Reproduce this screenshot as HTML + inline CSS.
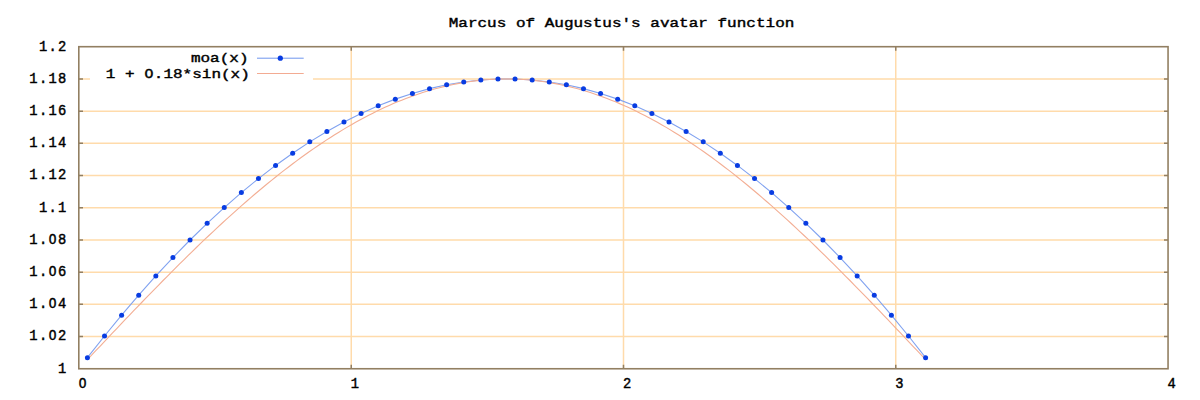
<!DOCTYPE html><html><head><meta charset="utf-8"><style>html,body{margin:0;padding:0;background:#fff;width:1200px;height:400px;overflow:hidden}svg{display:block}</style></head><body>
<svg width="1200" height="400" viewBox="0 0 1200 400">
<rect width="1200" height="400" fill="#fff"/>
<path d="M79.00 336.55H1168.00 M79.00 304.35H1168.00 M79.00 272.15H1168.00 M79.00 239.95H1168.00 M79.00 207.75H1168.00 M79.00 175.55H1168.00 M79.00 143.35H1168.00 M79.00 111.15H1168.00 M79.00 78.95H1168.00 M351.25 46.75V368.75 M623.50 46.75V368.75 M895.75 46.75V368.75" stroke="#ffdbab" stroke-width="1.5" fill="none"/>
<path d="M79.00 336.55h4M1168.00 336.55h-4 M79.00 304.35h4M1168.00 304.35h-4 M79.00 272.15h4M1168.00 272.15h-4 M79.00 239.95h4M1168.00 239.95h-4 M79.00 207.75h4M1168.00 207.75h-4 M79.00 175.55h4M1168.00 175.55h-4 M79.00 143.35h4M1168.00 143.35h-4 M79.00 111.15h4M1168.00 111.15h-4 M79.00 78.95h4M1168.00 78.95h-4 M351.25 368.75v-4M351.25 46.75v4 M623.50 368.75v-4M623.50 46.75v4 M895.75 368.75v-4M895.75 46.75v4" stroke="#927f62" stroke-width="1.5" fill="none"/>
<rect x="90" y="50" width="223" height="32" fill="#fff"/>
<polyline points="87.40,357.64 104.51,336.00 121.61,315.16 138.72,295.13 155.83,275.92 172.93,257.54 190.04,240.01 207.14,223.34 224.25,207.54 241.36,192.61 258.46,178.57 275.57,165.43 292.67,153.19 309.78,141.87 326.89,131.46 343.99,121.98 361.10,113.43 378.20,105.82 395.31,99.14 412.42,93.42 429.52,88.64 446.63,84.81 463.73,81.94 480.84,80.03 497.95,79.07 515.05,79.07 532.16,80.03 549.26,81.94 566.37,84.81 583.48,88.64 600.58,93.42 617.69,99.14 634.79,105.82 651.90,113.43 669.01,121.98 686.11,131.46 703.22,141.87 720.32,153.19 737.43,165.43 754.54,178.57 771.64,192.61 788.75,207.54 805.85,223.34 822.96,240.01 840.07,257.54 857.17,275.92 874.28,295.13 891.38,315.16 908.49,336.00 925.60,357.64" stroke="#80a2f0" stroke-width="1.1" fill="none"/>
<polyline points="87.40,359.65 91.59,355.19 95.78,350.74 99.98,346.28 104.17,341.84 108.36,337.40 112.55,332.97 116.74,328.55 120.93,324.13 125.12,319.73 129.31,315.34 133.50,310.96 137.69,306.60 141.89,302.25 146.08,297.91 150.27,293.60 154.46,289.30 158.65,285.02 162.84,280.76 167.03,276.52 171.22,272.30 175.41,268.10 179.60,263.93 183.80,259.79 187.99,255.67 192.18,251.57 196.37,247.51 200.56,243.47 204.75,239.46 208.94,235.48 213.13,231.54 217.32,227.62 221.51,223.74 225.70,219.90 229.90,216.09 234.09,212.32 238.28,208.58 242.47,204.88 246.66,201.22 250.85,197.60 255.04,194.02 259.23,190.48 263.42,186.99 267.61,183.53 271.81,180.12 276.00,176.76 280.19,173.44 284.38,170.17 288.57,166.94 292.76,163.77 296.95,160.64 301.14,157.56 305.33,154.53 309.52,151.55 313.71,148.62 317.91,145.75 322.10,142.92 326.29,140.15 330.48,137.44 334.67,134.78 338.86,132.17 343.05,129.63 347.24,127.13 351.43,124.70 355.62,122.32 359.82,120.00 364.01,117.75 368.20,115.55 372.39,113.41 376.58,111.33 380.77,109.31 384.96,107.35 389.15,105.46 393.34,103.62 397.53,101.85 401.73,100.15 405.92,98.50 410.11,96.93 414.30,95.41 418.49,93.96 422.68,92.58 426.87,91.26 431.06,90.00 435.25,88.82 439.44,87.70 443.63,86.64 447.83,85.65 452.02,84.73 456.21,83.88 460.40,83.09 464.59,82.38 468.78,81.73 472.97,81.14 477.16,80.63 481.35,80.19 485.54,79.81 489.74,79.50 493.93,79.26 498.12,79.09 502.31,78.98 506.50,78.95 510.69,78.98 514.88,79.09 519.07,79.26 523.26,79.50 527.45,79.81 531.65,80.19 535.84,80.63 540.03,81.14 544.22,81.73 548.41,82.38 552.60,83.09 556.79,83.88 560.98,84.73 565.17,85.65 569.36,86.64 573.55,87.70 577.75,88.82 581.94,90.00 586.13,91.26 590.32,92.58 594.51,93.96 598.70,95.41 602.89,96.93 607.08,98.50 611.27,100.15 615.46,101.85 619.66,103.62 623.85,105.46 628.04,107.35 632.23,109.31 636.42,111.33 640.61,113.41 644.80,115.55 648.99,117.75 653.18,120.00 657.37,122.32 661.56,124.70 665.76,127.13 669.95,129.63 674.14,132.17 678.33,134.78 682.52,137.44 686.71,140.15 690.90,142.92 695.09,145.75 699.28,148.62 703.47,151.55 707.67,154.53 711.86,157.56 716.05,160.64 720.24,163.77 724.43,166.94 728.62,170.17 732.81,173.44 737.00,176.76 741.19,180.12 745.38,183.53 749.58,186.99 753.77,190.48 757.96,194.02 762.15,197.60 766.34,201.22 770.53,204.88 774.72,208.58 778.91,212.32 783.10,216.09 787.29,219.90 791.48,223.74 795.68,227.62 799.87,231.54 804.06,235.48 808.25,239.46 812.44,243.47 816.63,247.51 820.82,251.57 825.01,255.67 829.20,259.79 833.39,263.93 837.59,268.10 841.78,272.30 845.97,276.52 850.16,280.76 854.35,285.02 858.54,289.30 862.73,293.60 866.92,297.91 871.11,302.25 875.30,306.60 879.50,310.96 883.69,315.34 887.88,319.73 892.07,324.13 896.26,328.55 900.45,332.97 904.64,337.40 908.83,341.84 913.02,346.28 917.21,350.74 921.40,355.19 925.60,359.65" stroke="#f3ae94" stroke-width="1.1" fill="none"/>
<g fill="#083ce2"><circle cx="87.40" cy="357.64" r="2.5"/><circle cx="104.51" cy="336.00" r="2.5"/><circle cx="121.61" cy="315.16" r="2.5"/><circle cx="138.72" cy="295.13" r="2.5"/><circle cx="155.83" cy="275.92" r="2.5"/><circle cx="172.93" cy="257.54" r="2.5"/><circle cx="190.04" cy="240.01" r="2.5"/><circle cx="207.14" cy="223.34" r="2.5"/><circle cx="224.25" cy="207.54" r="2.5"/><circle cx="241.36" cy="192.61" r="2.5"/><circle cx="258.46" cy="178.57" r="2.5"/><circle cx="275.57" cy="165.43" r="2.5"/><circle cx="292.67" cy="153.19" r="2.5"/><circle cx="309.78" cy="141.87" r="2.5"/><circle cx="326.89" cy="131.46" r="2.5"/><circle cx="343.99" cy="121.98" r="2.5"/><circle cx="361.10" cy="113.43" r="2.5"/><circle cx="378.20" cy="105.82" r="2.5"/><circle cx="395.31" cy="99.14" r="2.5"/><circle cx="412.42" cy="93.42" r="2.5"/><circle cx="429.52" cy="88.64" r="2.5"/><circle cx="446.63" cy="84.81" r="2.5"/><circle cx="463.73" cy="81.94" r="2.5"/><circle cx="480.84" cy="80.03" r="2.5"/><circle cx="497.95" cy="79.07" r="2.5"/><circle cx="515.05" cy="79.07" r="2.5"/><circle cx="532.16" cy="80.03" r="2.5"/><circle cx="549.26" cy="81.94" r="2.5"/><circle cx="566.37" cy="84.81" r="2.5"/><circle cx="583.48" cy="88.64" r="2.5"/><circle cx="600.58" cy="93.42" r="2.5"/><circle cx="617.69" cy="99.14" r="2.5"/><circle cx="634.79" cy="105.82" r="2.5"/><circle cx="651.90" cy="113.43" r="2.5"/><circle cx="669.01" cy="121.98" r="2.5"/><circle cx="686.11" cy="131.46" r="2.5"/><circle cx="703.22" cy="141.87" r="2.5"/><circle cx="720.32" cy="153.19" r="2.5"/><circle cx="737.43" cy="165.43" r="2.5"/><circle cx="754.54" cy="178.57" r="2.5"/><circle cx="771.64" cy="192.61" r="2.5"/><circle cx="788.75" cy="207.54" r="2.5"/><circle cx="805.85" cy="223.34" r="2.5"/><circle cx="822.96" cy="240.01" r="2.5"/><circle cx="840.07" cy="257.54" r="2.5"/><circle cx="857.17" cy="275.92" r="2.5"/><circle cx="874.28" cy="295.13" r="2.5"/><circle cx="891.38" cy="315.16" r="2.5"/><circle cx="908.49" cy="336.00" r="2.5"/><circle cx="925.60" cy="357.64" r="2.5"/></g>
<rect x="78.8" y="46.7" width="1089.25" height="322.05" stroke="#927f62" stroke-width="1.6" fill="none"/>
<g font-family="'Liberation Mono', monospace" font-size="16" fill="#000" stroke="#000" stroke-width="0.5">
<g text-anchor="middle"><text transform="translate(195.69,61.90) scale(0.999,0.77)">m</text><text transform="translate(205.29,61.90) scale(0.999,0.77)">o</text><text transform="translate(214.89,61.90) scale(0.999,0.77)">a</text><text transform="translate(224.50,61.90) scale(0.999,0.77)">(</text><text transform="translate(234.10,61.90) scale(0.999,0.77)">x</text><text transform="translate(243.70,61.90) scale(0.999,0.77)">)</text></g>
<g text-anchor="middle"><text transform="translate(110.58,77.90) scale(0.999,0.77)">1</text><text transform="translate(129.78,77.90) scale(0.999,0.77)">+</text><text transform="translate(148.98,77.90) scale(0.929,0.77)">O</text><text transform="translate(158.59,77.90) scale(0.999,0.77)">.</text><text transform="translate(168.19,77.90) scale(0.999,0.77)">1</text><text transform="translate(177.79,77.90) scale(0.999,0.77)">8</text><text transform="translate(187.39,77.90) scale(0.999,0.77)">*</text><text transform="translate(196.99,77.90) scale(0.999,0.77)">s</text><text transform="translate(206.59,77.90) scale(0.999,0.77)">i</text><text transform="translate(216.19,77.90) scale(0.999,0.77)">n</text><text transform="translate(225.80,77.90) scale(0.999,0.77)">(</text><text transform="translate(235.40,77.90) scale(0.999,0.77)">x</text><text transform="translate(245.00,77.90) scale(0.999,0.77)">)</text></g>
<g text-anchor="middle"><text transform="translate(62.20,372.50) scale(0.860,0.88)">1</text></g>
<g text-anchor="middle"><text transform="translate(33.39,340.30) scale(0.860,0.88)">1</text><text transform="translate(43.00,340.30) scale(0.860,0.88)">.</text><text transform="translate(52.60,340.30) scale(0.800,0.88)">O</text><text transform="translate(62.20,340.30) scale(0.860,0.88)">2</text></g>
<g text-anchor="middle"><text transform="translate(33.39,308.10) scale(0.860,0.88)">1</text><text transform="translate(43.00,308.10) scale(0.860,0.88)">.</text><text transform="translate(52.60,308.10) scale(0.800,0.88)">O</text><text transform="translate(62.20,308.10) scale(0.860,0.88)">4</text></g>
<g text-anchor="middle"><text transform="translate(33.39,275.90) scale(0.860,0.88)">1</text><text transform="translate(43.00,275.90) scale(0.860,0.88)">.</text><text transform="translate(52.60,275.90) scale(0.800,0.88)">O</text><text transform="translate(62.20,275.90) scale(0.860,0.88)">6</text></g>
<g text-anchor="middle"><text transform="translate(33.39,243.70) scale(0.860,0.88)">1</text><text transform="translate(43.00,243.70) scale(0.860,0.88)">.</text><text transform="translate(52.60,243.70) scale(0.800,0.88)">O</text><text transform="translate(62.20,243.70) scale(0.860,0.88)">8</text></g>
<g text-anchor="middle"><text transform="translate(43.00,211.50) scale(0.860,0.88)">1</text><text transform="translate(52.60,211.50) scale(0.860,0.88)">.</text><text transform="translate(62.20,211.50) scale(0.860,0.88)">1</text></g>
<g text-anchor="middle"><text transform="translate(33.39,179.30) scale(0.860,0.88)">1</text><text transform="translate(43.00,179.30) scale(0.860,0.88)">.</text><text transform="translate(52.60,179.30) scale(0.860,0.88)">1</text><text transform="translate(62.20,179.30) scale(0.860,0.88)">2</text></g>
<g text-anchor="middle"><text transform="translate(33.39,147.10) scale(0.860,0.88)">1</text><text transform="translate(43.00,147.10) scale(0.860,0.88)">.</text><text transform="translate(52.60,147.10) scale(0.860,0.88)">1</text><text transform="translate(62.20,147.10) scale(0.860,0.88)">4</text></g>
<g text-anchor="middle"><text transform="translate(33.39,114.90) scale(0.860,0.88)">1</text><text transform="translate(43.00,114.90) scale(0.860,0.88)">.</text><text transform="translate(52.60,114.90) scale(0.860,0.88)">1</text><text transform="translate(62.20,114.90) scale(0.860,0.88)">6</text></g>
<g text-anchor="middle"><text transform="translate(33.39,82.70) scale(0.860,0.88)">1</text><text transform="translate(43.00,82.70) scale(0.860,0.88)">.</text><text transform="translate(52.60,82.70) scale(0.860,0.88)">1</text><text transform="translate(62.20,82.70) scale(0.860,0.88)">8</text></g>
<g text-anchor="middle"><text transform="translate(43.00,50.50) scale(0.860,0.88)">1</text><text transform="translate(52.60,50.50) scale(0.860,0.88)">.</text><text transform="translate(62.20,50.50) scale(0.860,0.88)">2</text></g>
<g text-anchor="middle"><text transform="translate(82.60,387.70) scale(0.800,0.88)">O</text></g>
<g text-anchor="middle"><text transform="translate(354.85,387.70) scale(0.860,0.88)">1</text></g>
<g text-anchor="middle"><text transform="translate(627.10,387.70) scale(0.860,0.88)">2</text></g>
<g text-anchor="middle"><text transform="translate(899.35,387.70) scale(0.860,0.88)">3</text></g>
<g text-anchor="middle"><text transform="translate(1171.60,387.70) scale(0.860,0.88)">4</text></g>
<g text-anchor="middle"><text transform="translate(453.47,26.60) scale(0.999,0.77)">M</text><text transform="translate(463.07,26.60) scale(0.999,0.77)">a</text><text transform="translate(472.68,26.60) scale(0.999,0.77)">r</text><text transform="translate(482.28,26.60) scale(0.999,0.77)">c</text><text transform="translate(491.88,26.60) scale(0.999,0.77)">u</text><text transform="translate(501.48,26.60) scale(0.999,0.77)">s</text><text transform="translate(520.68,26.60) scale(0.999,0.77)">o</text><text transform="translate(530.29,26.60) scale(0.999,0.77)">f</text><text transform="translate(549.49,26.60) scale(0.999,0.77)">A</text><text transform="translate(559.09,26.60) scale(0.999,0.77)">u</text><text transform="translate(568.69,26.60) scale(0.999,0.77)">g</text><text transform="translate(578.29,26.60) scale(0.999,0.77)">u</text><text transform="translate(587.89,26.60) scale(0.999,0.77)">s</text><text transform="translate(597.50,26.60) scale(0.999,0.77)">t</text><text transform="translate(607.10,26.60) scale(0.999,0.77)">u</text><text transform="translate(616.70,26.60) scale(0.999,0.77)">s</text><text transform="translate(626.30,26.60) scale(0.999,0.77)">'</text><text transform="translate(635.90,26.60) scale(0.999,0.77)">s</text><text transform="translate(655.11,26.60) scale(0.999,0.77)">a</text><text transform="translate(664.71,26.60) scale(0.999,0.77)">v</text><text transform="translate(674.31,26.60) scale(0.999,0.77)">a</text><text transform="translate(683.91,26.60) scale(0.999,0.77)">t</text><text transform="translate(693.51,26.60) scale(0.999,0.77)">a</text><text transform="translate(703.11,26.60) scale(0.999,0.77)">r</text><text transform="translate(722.32,26.60) scale(0.999,0.77)">f</text><text transform="translate(731.92,26.60) scale(0.999,0.77)">u</text><text transform="translate(741.52,26.60) scale(0.999,0.77)">n</text><text transform="translate(751.12,26.60) scale(0.999,0.77)">c</text><text transform="translate(760.72,26.60) scale(0.999,0.77)">t</text><text transform="translate(770.32,26.60) scale(0.999,0.77)">i</text><text transform="translate(779.93,26.60) scale(0.999,0.77)">o</text><text transform="translate(789.53,26.60) scale(0.999,0.77)">n</text></g>
</g>
<path d="M257 58.2H303.7" stroke="#6f95ee" stroke-width="1"/>
<circle cx="280.3" cy="58.2" r="2.6" fill="#083ce2"/>
<path d="M257 73.45H303.7" stroke="#f3ab92" stroke-width="1.15"/>
</svg></body></html>
